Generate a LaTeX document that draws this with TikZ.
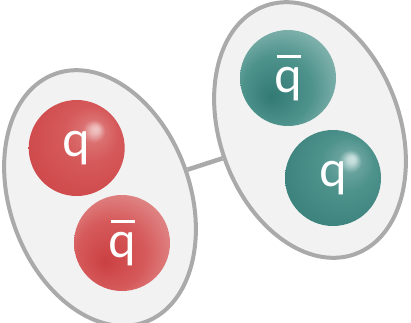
\documentclass[tikz,border=0pt]{standalone}
\usepackage{fontspec}
\setmainfont{Lato}
\usetikzlibrary{shapes.geometric}

\definecolor{rimgray}{HTML}{AAAAAA}
\definecolor{bagfill}{HTML}{F2F2F2}
\definecolor{redhi}{HTML}{F0C4C4}
\definecolor{redlt}{HTML}{E08686}
\definecolor{redmd}{HTML}{D65A5B}
\definecolor{reddk}{HTML}{CB4042}
\definecolor{tealhi}{HTML}{CFE4E2}
\definecolor{teallt}{HTML}{82B3AE}
\definecolor{tealmd}{HTML}{4E928C}
\definecolor{tealdk}{HTML}{337A74}

% q: small light spot upper right, a little darker towards lower left
\pgfdeclareradialshading{redq}{\pgfpoint{10bp}{10bp}}{color(0bp)=(redhi); color(2bp)=(redhi!80!redlt); color(6bp)=(redlt!50!redmd); color(14bp)=(redmd); color(40bp)=(reddk); color(50bp)=(reddk)}
\pgfdeclareradialshading{tealq}{\pgfpoint{10bp}{10bp}}{color(0bp)=(tealhi); color(2bp)=(tealhi!80!teallt); color(6bp)=(teallt!50!tealmd); color(14bp)=(tealmd); color(40bp)=(tealdk); color(50bp)=(tealdk)}
% anti-q: dark spot lower left, fading out upper right
\pgfdeclareradialshading{redqbar}{\pgfpoint{-9bp}{-10bp}}{color(0bp)=(reddk); color(18bp)=(redmd); color(31bp)=(redlt); color(38bp)=(redhi); color(50bp)=(redhi)}
\pgfdeclareradialshading{tealqbar}{\pgfpoint{-9bp}{-10bp}}{color(0bp)=(tealdk); color(18bp)=(tealmd); color(31bp)=(teallt); color(38bp)=(tealhi); color(50bp)=(tealhi)}

\tikzset{
  bag/.style={ellipse, draw=rimgray, line width=4, fill=bagfill,
    minimum width=180, minimum height=264, inner sep=0},
  quark/.style={circle, minimum size=96, inner sep=0, text=white,
    font=\fontsize{49}{49}\selectfont},
  gluon/.style={draw=rimgray, line width=4.5}
}

\begin{document}
\begin{tikzpicture}[x=1pt,y=1pt]
\def\qbar{\rlap{\kern0.05em\rule[0.7em]{0.5em}{0.065em}}q}
\useasboundingbox (0,0) rectangle (411,322);
% the two bags
\node (lbag) at (100,124) [bag, rotate=20] {};
\node (rbag) at (310,192) [bag, rotate=20] {};
\draw[gluon] (lbag) -- (rbag);
% red pair
\node (rq) at (76.7,174) [quark, shading=redq] {q};
\node (rqb) at (122,79) [quark, shading=redqbar] {\qbar};
% teal pair
\node (tqb) at (288,244) [quark, shading=tealqbar] {\qbar};
\node (tq) at (333,144) [quark, shading=tealq] {q};
\end{tikzpicture}
\end{document}
